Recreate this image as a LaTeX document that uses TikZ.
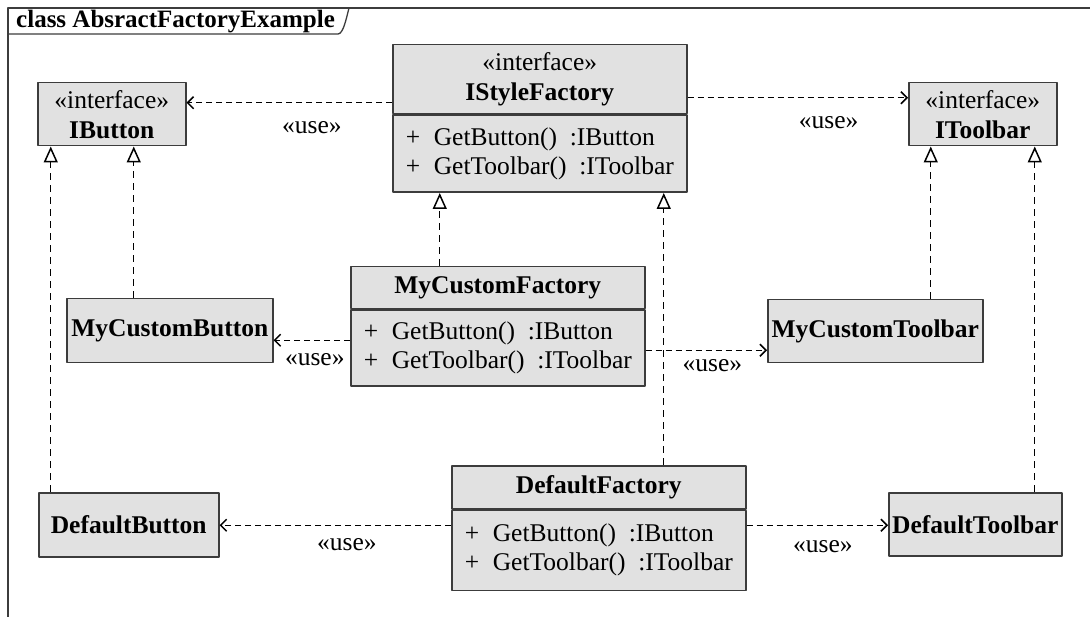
\documentclass[tikz,border=0pt]{standalone}
\usepackage{fontspec}
\setmainfont{Liberation Serif}
\usetikzlibrary{arrows.meta,positioning}
\definecolor{boxfill}{HTML}{E1E1E1}
\definecolor{boxline}{HTML}{3C3C3C}
\tikzset{
  every picture/.style={line join=round, >=Stealth},
  classbox/.style={draw=boxline, fill=boxfill, line width=1.5pt, inner sep=0pt, align=center, font=\fontsize{25.5}{30}\selectfont},
  opsbox/.style={classbox, align=left, inner xsep=13pt, text width=268pt, font=\fontsize{25.5}{29}\selectfont},
  usedep/.style={line width=1.2pt, dash pattern=on 6pt off 4pt, -{Straight Barb[length=6pt,width=12pt,line width=1.5pt]}},
  realize/.style={line width=1.2pt, dash pattern=on 7pt off 5pt, -{Triangle[open,length=16pt,width=14pt,fill=white,line width=1.5pt]}},
  uselbl/.style={font=\fontsize{25.5}{29}\selectfont, inner sep=0pt},
}
\newcommand{\op}[2]{\mbox{\makebox[1.1em][l]{+}#1\hspace{0.5em}:#2}}

\begin{document}
\begin{tikzpicture}[x=1pt,y=-1pt]
\useasboundingbox (0,0) rectangle (1090,617);
% frame and name tab
\draw[boxline, line width=1.8pt] (8,617) -- (8,8) -- (1090,8);
\draw[boxline, line width=1.3pt] (8,34) -- (338,34) .. controls (343,34) and (346,20) .. (349,8);
\node[anchor=base west, font=\bfseries\fontsize{25}{28}\selectfont, inner sep=0pt] (title) at (16,28) {class AbsractFactoryExample};
% interfaces
\node[classbox, minimum width=148pt, minimum height=63pt, anchor=north west] (ibutton) at (37,82) {«interface»\\\textbf{IButton}};
\node[classbox, minimum width=294pt, minimum height=69pt, anchor=north west] (isf) at (392,44) {«interface»\\\textbf{IStyleFactory}};
\node[opsbox, minimum height=77pt, anchor=north] (isf-ops) at (isf.south) {\op{GetButton()}{IButton}\\\op{GetToolbar()}{IToolbar}};
\node[classbox, minimum width=148pt, minimum height=63pt, anchor=north west] (itoolbar) at (908,82) {«interface»\\\textbf{IToolbar}};
% custom classes
\node[classbox, minimum width=294pt, minimum height=42pt, anchor=north west] (mcf) at (350,266) {\textbf{MyCustomFactory}};
\node[opsbox, minimum height=76pt, anchor=north] (mcf-ops) at (mcf.south) {\op{GetButton()}{IButton}\\\op{GetToolbar()}{IToolbar}};
\node[classbox, minimum width=206pt, minimum height=64pt, anchor=north west] (mcbutton) at (66,298) {\textbf{MyCustomButton}};
\node[classbox, minimum width=215pt, minimum height=63pt, anchor=north west] (mctoolbar) at (767,299) {\textbf{MyCustomToolbar}};
% default classes
\node[classbox, minimum width=294pt, minimum height=43pt, anchor=north west] (df) at (451,465) {\textbf{DefaultFactory}};
\node[opsbox, minimum height=80pt, anchor=north] (df-ops) at (df.south) {\op{GetButton()}{IButton}\\\op{GetToolbar()}{IToolbar}};
\node[classbox, minimum width=180pt, minimum height=64pt, anchor=north west] (dbutton) at (38,492) {\textbf{DefaultButton}};
\node[classbox, minimum width=173pt, minimum height=63pt, anchor=north west] (dtoolbar) at (888,492) {\textbf{DefaultToolbar}};
% <<use>> dependencies
\draw[usedep] ([yshift=-23.5pt]isf.west) coordinate (u1) -- (u1 -| ibutton.east) node[uselbl, pos=.39, yshift=-25pt] (l1) {«use»};
\draw[usedep] ([yshift=-18.5pt]isf.east) coordinate (u2) -- (u2 -| itoolbar.west) node[uselbl, pos=.64, yshift=-25pt] (l2) {«use»};
\draw[usedep] ([yshift=8pt]mcf-ops.west) coordinate (u3) -- (u3 -| mcbutton.east) node[uselbl, pos=.46, yshift=-19pt] (l3) {«use»};
\draw[usedep] ([yshift=-2pt]mcf-ops.east) coordinate (u4) -- (u4 -| mctoolbar.west) node[uselbl, pos=.55, yshift=-15pt] (l4) {«use»};
\draw[usedep] ([yshift=25pt]df-ops.west) coordinate (u5) -- (u5 -| dbutton.east) node[uselbl, pos=.45, yshift=-19pt] (l5) {«use»};
\draw[usedep] ([yshift=25pt]df-ops.east) coordinate (u6) -- (u6 -| dtoolbar.west) node[uselbl, pos=.54, yshift=-21pt] (l6) {«use»};
% realizations
\foreach \src/\dx/\dst in {dbutton/-78/ibutton, mcbutton/-36/ibutton, mcf/-58/isf-ops, df/65/isf-ops, mctoolbar/55.5/itoolbar, dtoolbar/59.5/itoolbar}
  \draw[realize] ([xshift=\dx pt]\src.north) coordinate (r) -- (r |- \dst.south);
\end{tikzpicture}
\end{document}
